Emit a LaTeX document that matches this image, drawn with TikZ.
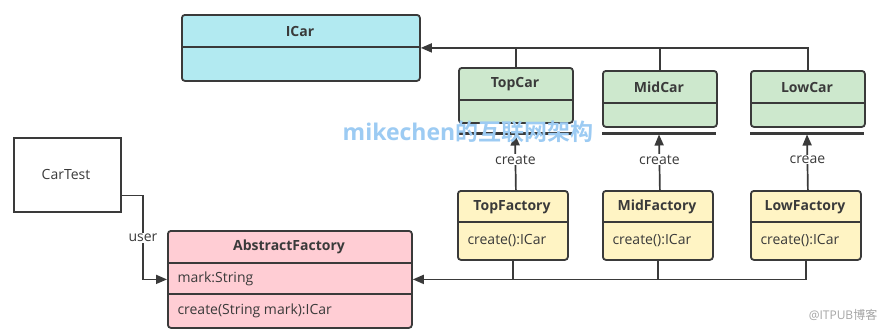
\documentclass[tikz,border=0pt]{standalone}
\usepackage{fontspec}
\setmainfont{Open Sans}
\newfontfamily\cjk{Noto Sans CJK SC}[BoldFont={* Bold}]
\usetikzlibrary{arrows.meta,calc}
\definecolor{bd}{HTML}{3A3A3A}
\definecolor{cyanf}{HTML}{B2EAF1}
\definecolor{greenf}{HTML}{CDE8CD}
\definecolor{yellowf}{HTML}{FFF4C4}
\definecolor{pinkf}{HTML}{FFCDD4}
\definecolor{wm}{HTML}{9CCBF3}
\begin{document}
\begin{tikzpicture}[x=1pt,y=-1pt,
  box/.style={draw=bd,line width=1.8pt,rounded corners=3pt,anchor=north west,inner sep=0pt},
  ttl/.style={font=\fontsize{14}{16}\selectfont\bfseries,text=bd},
  txt/.style={font=\fontsize{14}{16}\selectfont,text=bd},
  conn/.style={draw=bd,line width=1.7pt},
  arr/.style={conn,-{Triangle[length=11pt,width=9pt]}},
  div/.style={draw=bd,line width=1.6pt},
  bar/.style={draw=bd,line width=3pt}]
\useasboundingbox (0,0) rectangle (889,330);
\fill[white] (0,0) rectangle (889,330);
% boxes
\node[box,fill=cyanf,minimum width=238pt,minimum height=66pt] (icar) at (181,14) {};
\node[box,fill=greenf,minimum width=114pt,minimum height=55pt] (topcar) at (458,67) {};
\node[box,fill=greenf,minimum width=114pt,minimum height=56pt] (midcar) at (602,70) {};
\node[box,fill=greenf,minimum width=114pt,minimum height=56pt] (lowcar) at (750,70) {};
\node[box,fill=yellowf,minimum width=110pt,minimum height=69pt] (topf) at (457,190) {};
\node[box,fill=yellowf,minimum width=110pt,minimum height=69pt] (midf) at (602,190) {};
\node[box,fill=yellowf,minimum width=110pt,minimum height=69pt] (lowf) at (750,190) {};
\node[box,fill=pinkf,minimum width=244pt,minimum height=97pt] (af) at (167,230) {};
\node[draw=bd,line width=1.6pt,anchor=north west,inner sep=0pt,minimum width=107pt,minimum height=74pt,fill=white] (cartest) at (13,137) {};
% dividers
\draw[div] (181,47) -- (419,47);
\draw[div] (458,100) -- (572,100);
\draw[div] (602,103) -- (716,103);
\draw[div] (750,103) -- (864,103);
\draw[div] (457,222) -- (567,222);
\draw[div] (602,222) -- (712,222);
\draw[div] (750,222) -- (860,222);
\draw[div] (167,263) -- (411,263);
\draw[div] (167,294) -- (411,294);
% bars
\coordinate (bt1) at (458,133); \coordinate (bt2) at (572,133);
\coordinate (bm1) at (602,133); \coordinate (bm2) at (716,133);
\coordinate (bl1) at (750,133); \coordinate (bl2) at (864,133);
\draw[bar] (bt1) -- (bt2);
\draw[bar] (bm1) -- (bm2);
\draw[bar] (bl1) -- (bl2);
% texts
\node[ttl] (icart) at (300,31) {ICar};
\node[ttl] (topcart) at (515,84) {TopCar};
\node[ttl] (midcart) at (659,87) {MidCar};
\node[ttl] (lowcart) at (807,87) {LowCar};
\node[ttl] (topft) at (512,207) {TopFactory};
\node[ttl] (midft) at (657,207) {MidFactory};
\node[ttl] (lowft) at (805,207) {LowFactory};
\node[txt,anchor=west] (topfm) at (464,241) {create():ICar};
\node[txt,anchor=west] (midfm) at (609,241) {create():ICar};
\node[txt,anchor=west] (lowfm) at (757,241) {create():ICar};
\node[ttl] (aft) at (289,247) {AbstractFactory};
\node[txt,anchor=west] (afa) at (174,279) {mark:String};
\node[txt,anchor=west] (afm) at (174,311) {create(String mark):ICar};
\node[txt] (ctt) at (66,174) {CarTest};
% inheritance to ICar
\draw[arr] (lowcar.north) |- (icar.east);
\draw[conn] (topcar.north) -- (topcar.north |- icar.east);
\draw[conn] (midcar.north) -- (midcar.north |- icar.east);
% create arrows
\draw[arr] (topf.north -| topcar.north) -- ($(bt1)!0.5!(bt2)+(0,1.5)$) node[pos=0.55,txt,fill=white,inner sep=1pt] (c1) {create};
\draw[arr] (midf.north -| midcar.north) -- ($(bm1)!0.5!(bm2)+(0,1.5)$) node[pos=0.55,txt,fill=white,inner sep=1pt] (c2) {create};
\draw[arr] (lowf.north -| lowcar.north) -- ($(bl1)!0.5!(bl2)+(0,1.5)$) node[pos=0.55,txt,fill=white,inner sep=1pt] (c3) {creae};
% factories to AbstractFactory
\draw[arr] (lowf.south) |- (af.east);
\draw[conn] (topf.south) -- (topf.south |- af.east);
\draw[conn] (midf.south) -- (midf.south |- af.east);
% CarTest uses AbstractFactory
\draw[arr] ([yshift=17pt]cartest.south east) -| (143,260) |- (af.west);
\node[txt,fill=white,inner sep=1pt] (user) at (143,238) {user};
% watermarks
\node[font=\fontsize{23}{26}\selectfont\bfseries,text=wm] (wm1) at (468,132) {mikechen{\cjk\bfseries 的互联网架构}};
\node[font=\fontsize{12}{14}\selectfont,text=gray!70] (wm2) at (843,315) {@ITPUB{\cjk 博客}};
\end{tikzpicture}
\end{document}
